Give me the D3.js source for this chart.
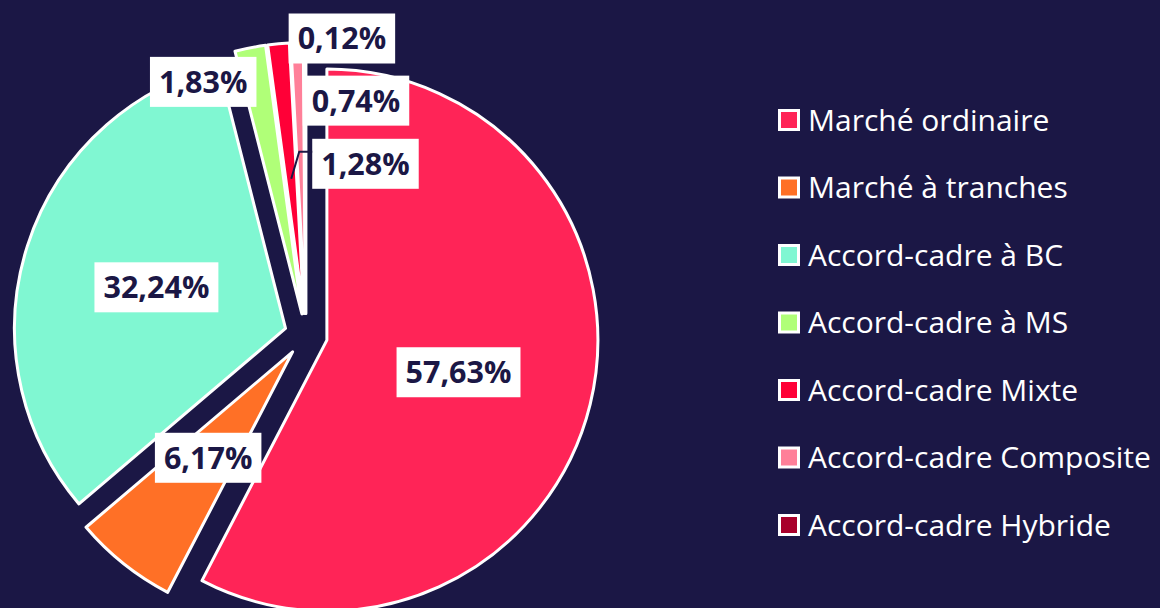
<!DOCTYPE html>
<html>
<head>
<meta charset="utf-8">
<script src="https://cdn.jsdelivr.net/npm/d3@7"></script>
<style>
    body { margin: 0; background: #1b1745; }
    svg { display: block; }
    text { font-family: "Open Sans", "Noto Sans", sans-serif; }
</style>
</head>
<body>
<svg id="chart" width="1160" height="608"></svg>
<script>
/*********************** DATA ********************************/
let categories = ['Marché ordinaire', 'Marché à tranches', 'Accord-cadre à BC', 'Accord-cadre à MS',
    'Accord-cadre Mixte', 'Accord-cadre Composite', 'Accord-cadre Hybride'];
let values = [57.63, 6.17, 32.24, 1.83, 1.28, 0.74, 0.12];
let colors = ['#ff2457', '#ff7026', '#80f7d2', '#b0ff78', '#ff0037', '#ff8099', '#a8002a'];
let labels = ['57,63%', '6,17%', '32,24%', '1,83%', '1,28%', '0,74%', '0,12%'];
// small slices get their label pushed out of the pie (dx, dy from the outer edge)
let labelNudge = [null, null, null, [-47, 34], [87, 120], [59, 58], [37, -4]];
let leader = [false, false, false, false, true, false, false];

/*********************** LAYOUT ********************************/
let svg = d3.select('#chart');
let bg = '#1b1745';
let cx = 306, cy = 335;   // pie center
let radius = 271;
let explode = 21.5;       // each slice pushed out from the center

svg.append('rect').attr('width', 1160).attr('height', 608).attr('fill', bg);

let pie = d3.pie().sort(null).value(d => d);
let arcs = pie(values);
let arc = d3.arc().innerRadius(0).outerRadius(radius);

let pieG = svg.append('g').attr('transform', `translate(${cx},${cy})`);

// slice offset along its mid angle
function shift(d) {
    let a = (d.startAngle + d.endAngle) / 2;
    return [Math.sin(a) * explode, -Math.cos(a) * explode];
}

pieG.selectAll('path.slice')
    .data(arcs)
    .enter()
    .append('path')
    .attr('class', 'slice')
    .attr('transform', d => `translate(${shift(d)})`)
    .attr('d', arc)
    .attr('fill', (d, i) => colors[i])
    .attr('stroke', '#ffffff')
    .attr('stroke-width', 3)
    .attr('stroke-linejoin', 'round');

/*********************** LABELS ********************************/
let labelG = pieG.append('g');
let padX = 9, boxH = 50;

arcs.forEach((d, i) => {
    let s = shift(d);
    let a = (d.startAngle + d.endAngle) / 2;
    let inner = [s[0] + Math.sin(a) * radius / 2, s[1] - Math.cos(a) * radius / 2];
    let pos = inner;
    if (labelNudge[i]) {
        let outer = [s[0] + Math.sin(a) * radius, s[1] - Math.cos(a) * radius];
        pos = [outer[0] + labelNudge[i][0], outer[1] + labelNudge[i][1]];
    }
    let g = labelG.append('g').attr('transform', `translate(${pos})`);
    let t = g.append('text')
        .attr('text-anchor', 'middle')
        .attr('dy', '0.36em')
        .attr('font-size', 30.5)
        .attr('font-weight', 700)
        .attr('fill', bg)
        .text(labels[i]);
    let w = t.node().getComputedTextLength() + padX * 2;
    g.insert('rect', 'text')
        .attr('x', -w / 2)
        .attr('y', -boxH / 2)
        .attr('width', w)
        .attr('height', boxH)
        .attr('fill', '#ffffff');

    if (leader[i]) {
        let left = pos[0] - w / 2;
        labelG.append('polyline')
            .attr('points', [inner, [inner[0] + 8, pos[1] - 12], [left, pos[1] - 12]].map(p => p.join(',')).join(' '))
            .attr('fill', 'none')
            .attr('stroke', bg)
            .attr('stroke-width', 2);
    }
});

/*********************** LEGEND ********************************/
let legend = svg.append('g').attr('transform', 'translate(778,120)');
let rowH = 67.5;

categories.forEach((c, i) => {
    let row = legend.append('g').attr('transform', `translate(0,${i * rowH})`);
    row.append('rect')
        .attr('x', 1.5).attr('y', -9.5)
        .attr('width', 19).attr('height', 19)
        .attr('fill', colors[i])
        .attr('stroke', '#ffffff')
        .attr('stroke-width', 3);
    row.append('text')
        .attr('x', 30)
        .attr('dy', '0.36em')
        .attr('font-size', 30)
        .attr('fill', '#ffffff')
        .text(c);
});
</script>
</body>
</html>
